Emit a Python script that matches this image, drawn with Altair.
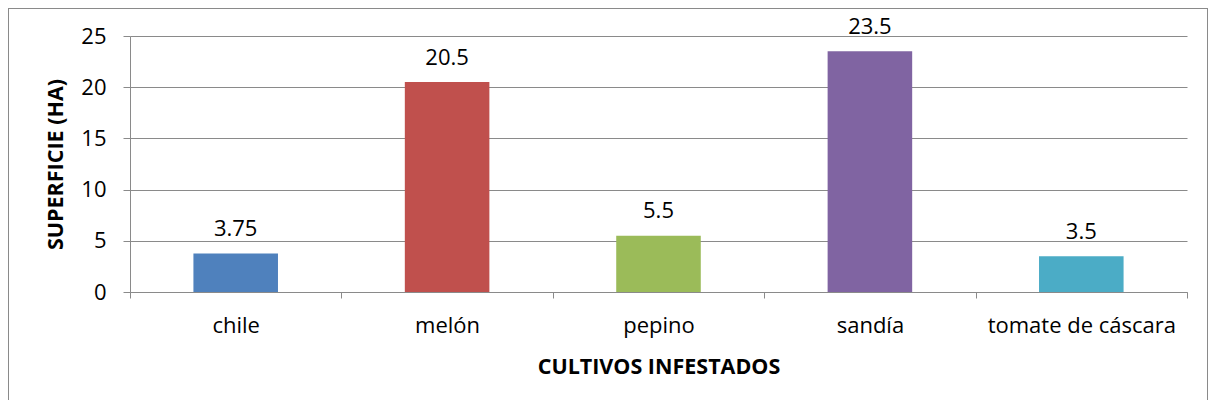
import altair as alt
import pandas as pd

cultivos = ["chile", "melón", "pepino", "sandía", "tomate de cáscara"]
superficie = [3.75, 20.5, 5.5, 23.5, 3.5]
etiquetas = ["3.75", "20.5", "5.5", "23.5", "3.5"]
colores = ["#4F81BD", "#C0504D", "#9BBB59", "#8064A2", "#4BACC6"]
y_ticks = [0, 5, 10, 15, 20, 25]

df = pd.DataFrame({"cultivo": cultivos, "sup": superficie, "lab": etiquetas})

FONT = "Open Sans"
GRAY = "#8a8a8a"

x = alt.X("cultivo:N", sort=cultivos,
          scale=alt.Scale(paddingInner=0, paddingOuter=0),
          axis=alt.Axis(title="CULTIVOS INFESTADOS", labelAngle=0, tickBand="extent",
                        tickSize=6, tickColor=GRAY, domainColor=GRAY, grid=False,
                        labelFont=FONT, labelFontSize=22, labelColor="#000000",
                        labelPadding=17, labelLimit=400, labelOverlap=False,
                        titleFont=FONT, titleFontSize=21.5, titleFontWeight="bold",
                        titleColor="#000000", titleY=81, titleBaseline="alphabetic"))
y = alt.Y("sup:Q", scale=alt.Scale(domain=[0, 25], nice=False),
          axis=alt.Axis(title="SUPERFICIE (HA)", values=y_ticks, tickSize=7,
                        tickColor=GRAY, domainColor=GRAY, gridColor=GRAY,
                        labelFont=FONT, labelFontSize=22, labelColor="#000000",
                        labelPadding=17,
                        titleFont=FONT, titleFontSize=21.5, titleFontWeight="bold",
                        titleColor="#000000", titleAngle=-90, titleX=-68, titleY=128,
                        titleAlign="center", titleBaseline="alphabetic"))

bars = alt.Chart(df).mark_bar(width=alt.RelativeBandSize(0.4)).encode(
    x=x, y=y,
    color=alt.Color("cultivo:N", sort=cultivos,
                    scale=alt.Scale(domain=cultivos, range=colores), legend=None),
)
text = alt.Chart(df).mark_text(font=FONT, fontSize=22, color="#000000",
                               baseline="alphabetic", dy=-17.5).encode(
    x=alt.X("cultivo:N", sort=cultivos), y="sup:Q", text="lab:N")

border = alt.Chart(df).mark_rect(fill=None, stroke=GRAY, strokeWidth=1).encode(
    x=alt.value(-121.5), x2=alt.value(1077.5), y=alt.value(-27.5), y2=alt.value(420))

chart = alt.layer(border, bars, text).properties(
    width=1057, height=256,
    autosize=alt.AutoSizeParams(type="none"),
    padding={"left": 122, "top": 28, "right": 22, "bottom": 108},
).configure_view(stroke=None)

chart.save("out.html", embed_options={"renderer": "svg", "actions": False})
